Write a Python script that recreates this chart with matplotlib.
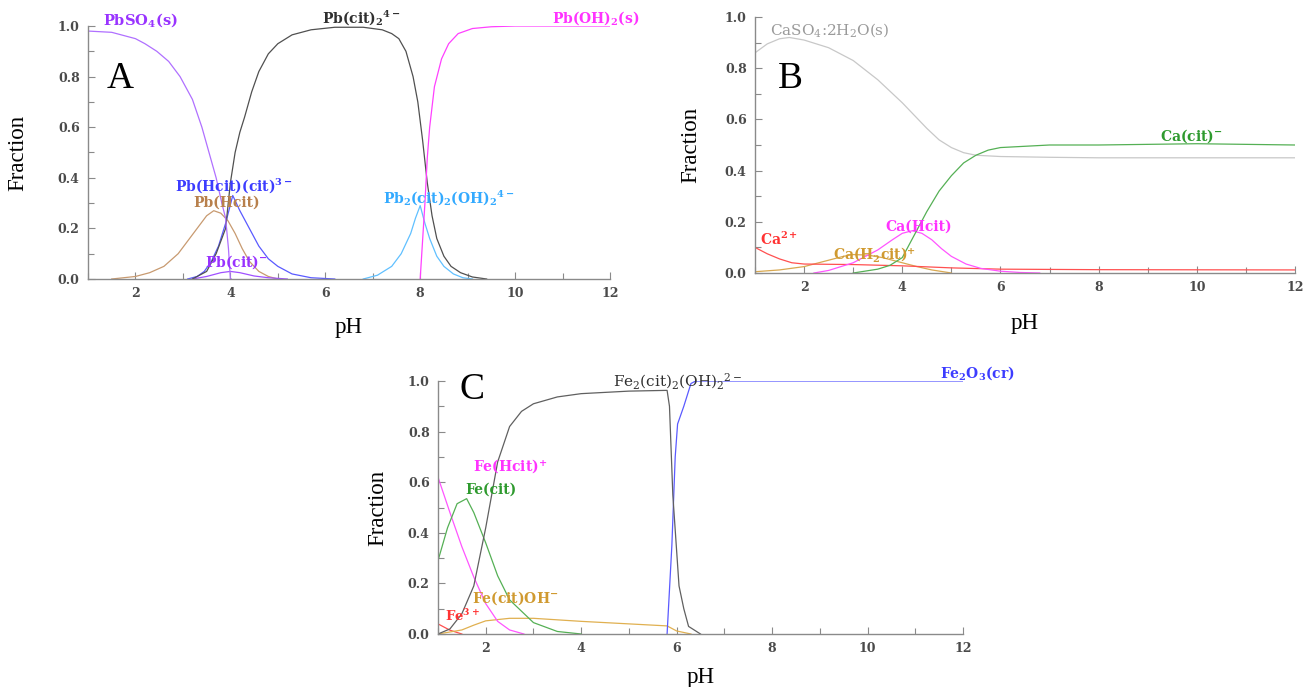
"""Speciation diagrams (fraction vs pH) for Pb, Ca and Fe citrate systems."""

import matplotlib

matplotlib.use("Agg", force=True)
import matplotlib.pyplot as plt
from matplotlib.ticker import MultipleLocator

plt.rcParams["font.family"] = ["DejaVu Serif"]
plt.rcParams["mathtext.fontset"] = "dejavuserif"
plt.rcParams["mathtext.default"] = "bf"

# ---- panel A: Pb ----
pbso4_ph = [1, 1.5, 2.0, 2.2, 2.45, 2.7, 2.94, 3.2, 3.4, 3.55, 3.7, 3.82, 3.9, 3.96, 4.0, 4.02]
pbso4 = [0.98, 0.975, 0.95, 0.93, 0.9, 0.86, 0.8, 0.71, 0.6, 0.5, 0.4, 0.3, 0.24, 0.12, 0.0, 0.0]

pbcit2_ph = [3.2, 3.5, 3.7, 3.9, 4.0, 4.1, 4.2, 4.3, 4.45, 4.6, 4.8, 5.0, 5.3, 5.7, 6.2,
             6.8, 7.2, 7.4, 7.55, 7.7, 7.85, 7.95, 8.05, 8.15, 8.25, 8.35, 8.5, 8.65, 8.85, 9.1, 9.4]
pbcit2 = [0.0, 0.03, 0.1, 0.2, 0.38, 0.5, 0.58, 0.64, 0.74, 0.82, 0.89, 0.93, 0.965, 0.985, 0.995,
          0.995, 0.985, 0.97, 0.95, 0.9, 0.8, 0.7, 0.55, 0.38, 0.25, 0.16, 0.09, 0.05, 0.025, 0.008, 0.0]

pboh2_ph = [8.0, 8.05, 8.1, 8.15, 8.2, 8.3, 8.45, 8.6, 8.8, 9.1, 9.5, 10.0, 12]
pboh2 = [0.0, 0.15, 0.3, 0.48, 0.6, 0.76, 0.87, 0.93, 0.97, 0.99, 0.997, 1.0, 1.0]

pb2_ph = [6.8, 7.1, 7.4, 7.6, 7.8, 7.9, 8.0, 8.1, 8.2, 8.35, 8.5, 8.7, 8.9, 9.1]
pb2 = [0.0, 0.015, 0.05, 0.1, 0.18, 0.24, 0.29, 0.22, 0.16, 0.09, 0.05, 0.02, 0.005, 0.0]

pbhcitcit_ph = [3.1, 3.3, 3.45, 3.6, 3.75, 3.9, 4.05, 4.2, 4.4, 4.6, 4.8, 5.0, 5.3, 5.7, 6.2]
pbhcitcit = [0.0, 0.01, 0.03, 0.07, 0.13, 0.22, 0.33, 0.27, 0.2, 0.13, 0.08, 0.05, 0.02, 0.005, 0.0]

pbhcit_ph = [1.5, 2.0, 2.3, 2.6, 2.9, 3.1, 3.3, 3.5, 3.65, 3.8, 3.95, 4.1, 4.25, 4.4, 4.6, 4.8, 5.0]
pbhcit = [0.0, 0.01, 0.025, 0.05, 0.1, 0.15, 0.2, 0.25, 0.27, 0.26, 0.23, 0.18, 0.12, 0.07, 0.03, 0.01, 0.0]

pbcit_ph = [3.2, 3.5, 3.8, 4.0, 4.2, 4.5, 4.8, 5.2]
pbcit = [0.0, 0.01, 0.025, 0.03, 0.025, 0.012, 0.005, 0.0]

# ---- panel B: Ca ----
caso4_ph = [1, 1.25, 1.5, 1.7, 2, 2.5, 3, 3.5, 4, 4.5, 4.75, 5, 5.25, 5.5, 6, 7, 8, 10, 12]
caso4 = [0.86, 0.895, 0.915, 0.92, 0.91, 0.88, 0.83, 0.755, 0.665, 0.565, 0.52, 0.49, 0.47, 0.46,
         0.455, 0.452, 0.45, 0.45, 0.45]

cacit_ph = [3.0, 3.5, 3.75, 4.0, 4.25, 4.5, 4.75, 5.0, 5.25, 5.5, 5.75, 6.0, 6.5, 7, 8, 10, 12]
cacit = [0.0, 0.015, 0.03, 0.06, 0.15, 0.24, 0.32, 0.38, 0.43, 0.46, 0.48, 0.49, 0.495, 0.5, 0.5,
         0.505, 0.5]

cahcit_ph = [2.2, 2.5, 3.0, 3.5, 3.8, 4.0, 4.2, 4.4, 4.6, 4.8, 5.0, 5.3, 5.6, 6.0, 6.4, 6.8]
cahcit = [0.0, 0.01, 0.04, 0.09, 0.13, 0.155, 0.165, 0.155, 0.13, 0.095, 0.065, 0.035, 0.018,
          0.007, 0.002, 0.0]

ca2_ph = [1, 1.25, 1.5, 1.75, 2, 3, 4, 5, 6, 8, 12]
ca2 = [0.1, 0.075, 0.055, 0.04, 0.035, 0.033, 0.028, 0.02, 0.015, 0.013, 0.012]

cah2cit_ph = [1, 1.5, 2, 2.5, 2.8, 3.0, 3.3, 3.6, 4.0, 4.3, 4.6, 5.0]
cah2cit = [0.005, 0.012, 0.025, 0.05, 0.065, 0.072, 0.07, 0.06, 0.04, 0.025, 0.012, 0.0]

# ---- panel C: Fe ----
fe2_ph = [1.0, 1.25, 1.5, 1.75, 2.0, 2.25, 2.5, 2.75, 3.0, 3.5, 4.0, 5.0, 5.8, 5.85, 5.92,
          6.05, 6.15, 6.25, 6.5]
fe2 = [0.0, 0.02, 0.08, 0.19, 0.42, 0.68, 0.82, 0.88, 0.91, 0.937, 0.95, 0.96, 0.963, 0.9, 0.55,
       0.19, 0.1, 0.03, 0.0]

fe2o3_ph = [5.8, 5.9, 5.97, 6.02, 6.15, 6.3, 6.4, 12]
fe2o3 = [0.0, 0.35, 0.7, 0.83, 0.9, 0.99, 1.0, 1.0]

fehcit_ph = [1.0, 1.25, 1.5, 1.75, 2.0, 2.25, 2.5, 2.8]
fehcit = [0.62, 0.48, 0.345, 0.225, 0.12, 0.05, 0.016, 0.0]

fecit_ph = [1.0, 1.2, 1.4, 1.6, 1.75, 2.0, 2.25, 2.5, 3.0, 3.5, 4.0]
fecit = [0.29, 0.42, 0.515, 0.535, 0.48, 0.36, 0.23, 0.135, 0.045, 0.01, 0.0]

fecitoh_ph = [1.0, 1.5, 1.75, 2.0, 2.5, 3.0, 4.0, 5.0, 5.8, 6.0, 6.3]
fecitoh = [0.0, 0.016, 0.035, 0.052, 0.062, 0.062, 0.05, 0.04, 0.032, 0.012, 0.0]

fe3_ph = [1.0, 1.25, 1.5]
fe3 = [0.04, 0.015, 0.0]

TIMES = ["Liberation Serif", "DejaVu Serif"]


def style_axes(ax, ylabel_x, xlabel_y):
    ax.set_xlim(1, 12)
    ax.set_ylim(0, 1.0)
    for side in ("top", "right"):
        ax.spines[side].set_visible(False)
    for side in ("left", "bottom"):
        ax.spines[side].set_color("#8a8a8a")
        ax.spines[side].set_linewidth(1.0)
    ax.xaxis.set_major_locator(MultipleLocator(2))
    ax.xaxis.set_minor_locator(MultipleLocator(1))
    ax.yaxis.set_major_locator(MultipleLocator(0.2))
    ax.yaxis.set_minor_locator(MultipleLocator(0.1))
    ax.yaxis.set_major_formatter(lambda v, pos: f"{v:.1f}")
    ax.tick_params(which="both", direction="in", color="#8a8a8a", width=0.8)
    ax.tick_params(which="major", length=5, labelsize=9, labelcolor="#4a4a4a", pad=6)
    ax.tick_params(which="minor", length=4)
    ax.set_xticks([2, 4, 6, 8, 10, 12])
    for lab in ax.get_xticklabels() + ax.get_yticklabels():
        lab.set_fontweight("bold")
    ax.set_ylabel("Fraction", fontsize=16.5, family=TIMES)
    ax.set_xlabel("pH", fontsize=16.5, family=TIMES)
    ax.yaxis.set_label_coords(ylabel_x, 0.5)
    ax.xaxis.set_label_coords(0.5, xlabel_y)


def label(ax, x, y, s, color, bold=True, size=10):
    ax.text(x, y, s, color=color, fontsize=size, fontweight="bold" if bold else "normal",
            ha="left", va="center", clip_on=False)


fig = plt.figure(figsize=(13.16, 6.87), dpi=100)
W, H = 1316, 687
ax_a = fig.add_axes([88 / W, 1 - 279 / H, 522 / W, 253 / H])
ax_b = fig.add_axes([755 / W, 1 - 273 / H, 540 / W, 256 / H])
ax_c = fig.add_axes([438 / W, 1 - 634 / H, 525 / W, 253 / H])

lw = 0.9

# panel A
ax_a.plot(pbhcit_ph, pbhcit, color="#c89a70", lw=lw)
ax_a.plot(pbcit_ph, pbcit, color="#a050ff", lw=lw)
ax_a.plot(pbhcitcit_ph, pbhcitcit, color="#5a5aff", lw=lw)
ax_a.plot(pb2_ph, pb2, color="#60c0ff", lw=lw)
ax_a.plot(pbcit2_ph, pbcit2, color="#505050", lw=lw)
ax_a.plot(pbso4_ph, pbso4, color="#b070ff", lw=lw)
ax_a.plot(pboh2_ph, pboh2, color="#ff40ff", lw=lw)
style_axes(ax_a, -0.115, -0.15)
label(ax_a, 1.32, 1.024, r"PbSO$_4$(s)", "#9933ff", size=10.5)
label(ax_a, 5.93, 1.03, r"Pb(cit)$_2$$^{4-}$", "#303030")
label(ax_a, 10.77, 1.03, r"Pb(OH)$_2$(s)", "#ff33ff")
label(ax_a, 2.83, 0.368, r"Pb(Hcit)(cit)$^{3-}$", "#3c3cff")
label(ax_a, 3.21, 0.30, "Pb(Hcit)", "#b8804c")
label(ax_a, 3.46, 0.067, r"Pb(cit)$^{-}$", "#9933ff")
label(ax_a, 7.21, 0.32, r"Pb$_2$(cit)$_2$(OH)$_2$$^{4-}$", "#33aaff")
ax_a.text(1.4, 0.79, "A", fontsize=27, ha="left", va="center", family=TIMES)

# panel B
ax_b.plot(caso4_ph, caso4, color="#c8c8c8", lw=lw)
ax_b.plot(cah2cit_ph, cah2cit, color="#d8a850", lw=lw)
ax_b.plot(ca2_ph, ca2, color="#ff5050", lw=lw)
ax_b.plot(cahcit_ph, cahcit, color="#ff55ff", lw=lw)
ax_b.plot(cacit_ph, cacit, color="#55b055", lw=lw)
style_axes(ax_b, -0.10, -0.155)
label(ax_b, 1.31, 0.95, r"CaSO$_\mathrm{4}$:2H$_\mathrm{2}$O(s)", "#9a9a9a", bold=False, size=11)
label(ax_b, 9.25, 0.535, r"Ca(cit)$^{-}$", "#2e9a2e")
label(ax_b, 3.65, 0.18, "Ca(Hcit)", "#ff33ff")
label(ax_b, 1.1, 0.13, r"Ca$^{2+}$", "#ff3333")
label(ax_b, 2.59, 0.07, r"Ca(H$_2$cit)$^{+}$", "#d09a30")
ax_b.text(1.47, 0.76, "B", fontsize=27, ha="left", va="center", family=TIMES)

# panel C
ax_c.plot(fe3_ph, fe3, color="#ff5050", lw=lw)
ax_c.plot(fecitoh_ph, fecitoh, color="#e0b050", lw=lw)
ax_c.plot(fehcit_ph, fehcit, color="#ff55ff", lw=lw)
ax_c.plot(fecit_ph, fecit, color="#55b055", lw=lw)
ax_c.plot(fe2o3_ph, fe2o3, color="#5a5aff", lw=lw)
ax_c.plot(fe2_ph, fe2, color="#606060", lw=lw)
style_axes(ax_c, -0.095, -0.13)
label(ax_c, 4.67, 1.0, r"Fe$_\mathrm{2}$(cit)$_\mathrm{2}$(OH)$_\mathrm{2}$$^{\mathrm{2-}}$", "#303030",
      bold=False, size=11)
label(ax_c, 11.52, 1.03, r"Fe$_2$O$_3$(cr)", "#3c3cff")
label(ax_c, 1.73, 0.66, r"Fe(Hcit)$^{+}$", "#ff33ff")
label(ax_c, 1.57, 0.57, "Fe(cit)", "#2e9a2e")
label(ax_c, 1.72, 0.14, r"Fe(cit)OH$^{-}$", "#d09a30")
label(ax_c, 1.15, 0.07, r"Fe$^{3+}$", "#ff3333", size=9.5)
ax_c.text(1.46, 0.964, "C", fontsize=27, ha="left", va="center", family=TIMES)

fig.savefig("out.png", dpi=100)
plt.close(fig)
